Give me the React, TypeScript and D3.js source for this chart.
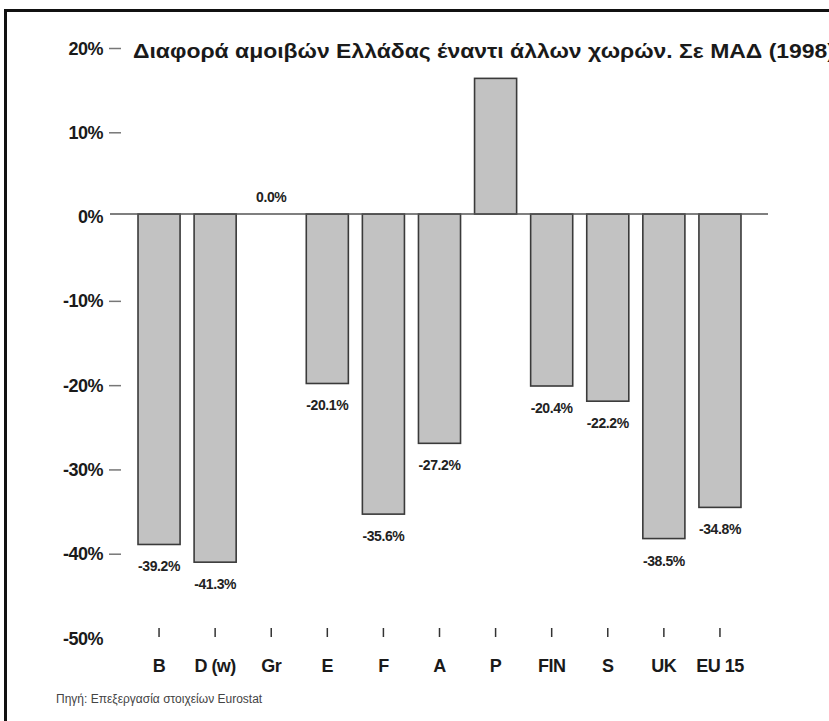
import { useEffect, useRef } from "react";
import * as d3 from "d3";

const categories = ["B", "D (w)", "Gr", "E", "F", "A", "P", "FIN", "S", "UK", "EU 15"];
const values = [-39.2, -41.3, 0.0, -20.1, -35.6, -27.2, 16.1, -20.4, -22.2, -38.5, -34.8];
// P has no printed value in the original
const valueLabels = ["-39.2%", "-41.3%", "0.0%", "-20.1%", "-35.6%", "-27.2%", "", "-20.4%", "-22.2%", "-38.5%", "-34.8%"];
const yTicks = [20, 10, 0, -10, -20, -30, -40, -50];
const title = "Διαφορά αμοιβών Ελλάδας έναντι άλλων χωρών. Σε ΜΑΔ (1998)";
const source = "Πηγή: Επεξεργασία στοιχείων Eurostat";

const W = 829;
const H = 721;
const FONT = "'Liberation Sans', Arial, sans-serif";

export default function App() {
  const svgRef = useRef<SVGSVGElement>(null);

  useEffect(() => {
    if (!svgRef.current) return;
    const svg = d3.select(svgRef.current);
    svg.selectAll("*").remove();

    const y = d3.scaleLinear().domain([-50, 20]).range([635.5, 45.5]);
    const x = d3.scaleBand<string>().domain(categories).range([131, 748])
      .paddingInner(0.25).paddingOuter(0.125);

    svg.append("rect").attr("width", W).attr("height", H).attr("fill", "#fff");

    // frame (only left and top edges fall inside the picture)
    svg.append("path").attr("d", `M5.5,${H + 5}V10.5H${W + 5}`)
      .attr("fill", "none").attr("stroke", "#111").attr("stroke-width", 3);

    // y tick labels + little dashes
    yTicks.forEach((t) => {
      svg.append("text").attr("x", 103).attr("y", y(t) + 9)
        .attr("text-anchor", "end").attr("font-family", FONT).attr("font-weight", "bold")
        .attr("font-size", 18).attr("fill", "#1a1a1a").attr("letter-spacing", -0.5)
        .text(`${t}%`);
      if (t !== 0 && t !== -50) {
        svg.append("line").attr("x1", 109).attr("x2", 121)
          .attr("y1", y(t) + 3).attr("y2", y(t) + 3)
          .attr("stroke", "#777").attr("stroke-width", 1.5);
      }
    });

    // title runs past the right edge of the picture, as in the scan
    svg.append("text").attr("x", 133).attr("y", 58)
      .attr("font-family", FONT).attr("font-weight", "bold").attr("font-size", 21)
      .attr("textLength", 702).attr("lengthAdjust", "spacingAndGlyphs")
      .attr("fill", "#1a1a1a").text(title);

    // bars
    categories.forEach((c, i) => {
      const v = values[i];
      if (v === 0) return;
      const top = y(Math.max(v, 0));
      const bot = y(Math.min(v, 0));
      svg.append("rect").attr("x", x(c)!).attr("y", top)
        .attr("width", x.bandwidth()).attr("height", bot - top)
        .attr("fill", "#c2c2c2").attr("stroke", "#3a3a3a").attr("stroke-width", 1.6);
    });

    // zero line
    svg.append("line").attr("x1", 110).attr("x2", 768)
      .attr("y1", y(0)).attr("y2", y(0))
      .attr("stroke", "#555").attr("stroke-width", 1.6);

    // value labels
    categories.forEach((c, i) => {
      if (!valueLabels[i]) return;
      const v = values[i];
      const cx = x(c)! + x.bandwidth() / 2;
      const ly = v === 0 ? y(0) - 12 : y(v) + 27;
      svg.append("text").attr("x", cx).attr("y", ly)
        .attr("text-anchor", "middle").attr("font-family", FONT).attr("font-weight", "bold")
        .attr("font-size", 14).attr("letter-spacing", -0.4).attr("fill", "#222")
        .text(valueLabels[i]);
    });

    // category ticks and labels
    categories.forEach((c) => {
      const cx = x(c)! + x.bandwidth() / 2;
      svg.append("line").attr("x1", cx).attr("x2", cx).attr("y1", 628).attr("y2", 637)
        .attr("stroke", "#333").attr("stroke-width", 1.5);
      svg.append("text").attr("x", cx).attr("y", 672)
        .attr("text-anchor", "middle").attr("font-family", FONT).attr("font-weight", "bold")
        .attr("font-size", 18).attr("letter-spacing", -0.5).attr("fill", "#1a1a1a").text(c);
    });

    svg.append("text").attr("x", 56).attr("y", 703)
      .attr("font-family", FONT).attr("font-size", 12).attr("fill", "#444")
      .text(source);
  }, []);

  return (
    <svg ref={svgRef} width={W} height={H}
      style={{ position: "absolute", left: 0, top: 0, display: "block" }} />
  );
}
